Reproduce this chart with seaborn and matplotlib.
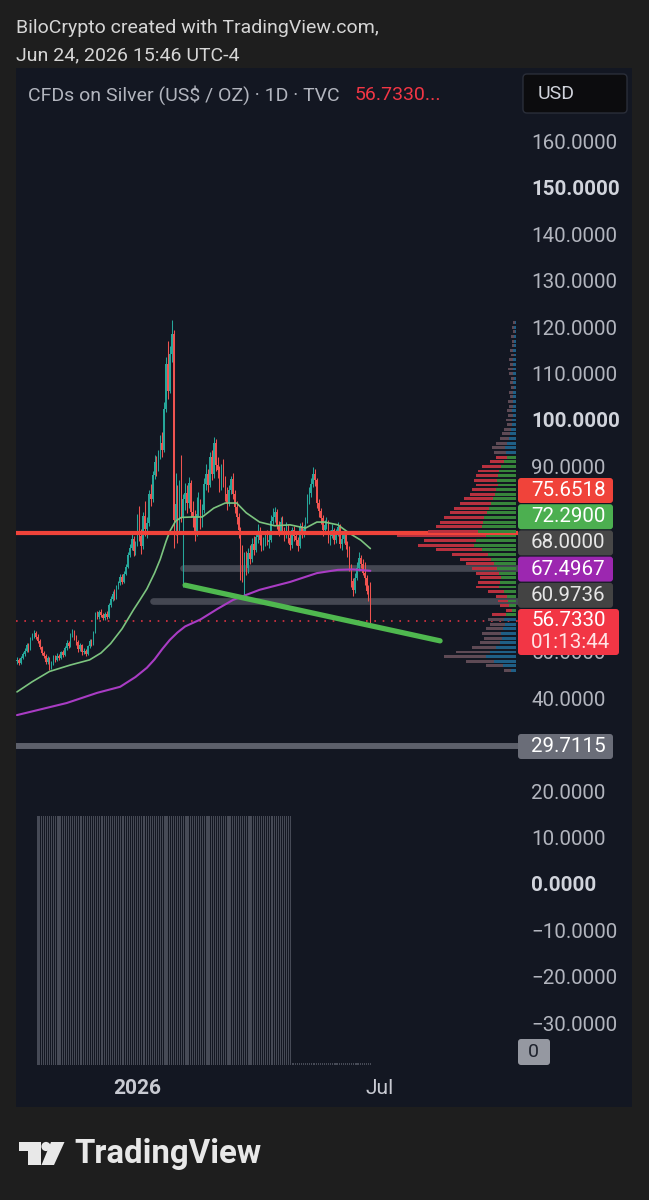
import numpy as np
import pandas as pd
import matplotlib
matplotlib.use("Agg")
import matplotlib.pyplot as plt
from matplotlib.patches import FancyBboxPatch, Rectangle, Circle, Polygon
import seaborn as sns

# --- data (prices in US$ / oz, one bar per trading day) ---
first_open = 48.0
closes = [48.2, 47.6, 48.8, 49.5, 50.2, 51.4, 50.6, 52.8, 53.5, 54.1,
          53.2, 52.4, 51.0, 49.8, 49.1, 47.9, 48.6, 46.8, 47.5, 48.9,
          48.3, 49.2, 48.7, 49.9, 49.4, 50.8, 51.9, 51.3, 53.6, 54.4,
          53.0, 52.1, 50.6, 51.4, 49.9, 50.3, 49.6, 51.2, 52.3, 51.8,
          54.2, 58.1, 57.6, 58.7, 58.0, 57.3, 58.2, 57.6, 60.1, 61.4,
          62.6, 61.8, 63.9, 64.8, 66.2, 65.1, 66.9, 68.4, 70.9, 72.4,
          74.3, 71.8, 73.2, 78.1, 75.0, 72.9, 79.2, 76.4, 77.8, 84.1,
          83.0, 88.2, 91.0, 89.4, 92.3, 95.1, 93.6, 102.4, 112.0, 106.3,
          114.2, 118.5, 78.4, 82.0, 76.3, 86.1, 79.0, 83.0, 84.3, 82.1,
          86.4, 80.2, 79.0, 76.1, 79.8, 82.4, 78.1, 80.6, 86.2, 88.4,
          86.0, 92.1, 88.3, 95.0, 90.4, 89.2, 86.1, 88.5, 86.9, 84.0,
          82.2, 85.0, 87.3, 84.1, 81.2, 79.0, 76.2, 72.1, 66.3, 70.2,
          68.0, 71.4, 70.1, 73.2, 72.0, 74.8, 76.1, 74.2, 72.9, 73.4,
          75.2, 73.8, 74.1, 78.3, 79.1, 80.2, 77.3, 75.9, 78.1, 76.2,
          75.1, 77.0, 74.6, 73.1, 76.2, 75.0, 74.1, 72.8, 77.1, 75.3,
          76.4, 78.2, 83.1, 84.2, 86.3, 88.4, 87.0, 82.1, 80.3, 78.9,
          76.2, 77.4, 78.1, 74.2, 75.0, 76.3, 74.1, 75.6, 77.0, 73.2,
          74.4, 75.2, 73.0, 72.1, 68.3, 65.2, 63.4, 66.0, 68.1, 70.2,
          69.0, 67.1, 66.0, 63.2, 62.1, 56.733]
highs = [48.9, 48.6, 49.2, 50.0, 50.8, 52.0, 51.9, 53.3, 54.2, 54.8,
         54.5, 53.8, 52.8, 51.3, 50.3, 49.5, 49.1, 48.9, 48.0, 49.3,
         49.4, 49.7, 49.6, 50.3, 50.4, 51.2, 52.5, 52.3, 54.0, 55.0,
         54.8, 53.6, 52.5, 51.9, 51.7, 50.9, 50.7, 51.6, 52.8, 52.9,
         54.6, 58.6, 58.9, 59.1, 59.2, 58.4, 58.7, 58.8, 60.6, 62.0,
         63.2, 63.5, 64.5, 65.4, 66.8, 66.9, 67.5, 69.0, 71.5, 73.2,
         75.4, 75.0, 74.0, 79.8, 81.5, 76.5, 80.1, 82.5, 79.0, 84.9,
         86.2, 89.0, 92.5, 92.2, 93.6, 96.8, 97.5, 103.8, 113.5, 117.1,
         116.0, 121.6, 119.5, 88.5, 86.0, 87.0, 92.5, 84.0, 86.5, 86.0,
         87.8, 87.0, 82.5, 80.5, 83.5, 84.5, 83.0, 82.0, 87.5, 90.5,
         89.5, 93.0, 93.5, 96.3, 95.8, 92.0, 90.0, 90.5, 91.5, 88.0,
         85.5, 86.0, 88.0, 88.5, 85.0, 82.5, 80.0, 77.0, 73.0, 71.5,
         71.8, 72.5, 73.0, 74.5, 75.0, 76.0, 77.5, 77.0, 75.5, 74.8,
         76.0, 76.2, 75.5, 79.5, 81.0, 81.2, 80.8, 78.2, 79.0, 79.2,
         77.0, 78.0, 77.5, 75.5, 77.0, 77.2, 76.0, 74.8, 77.8, 78.0,
         77.3, 79.0, 84.0, 85.5, 87.5, 89.8, 89.5, 87.5, 83.0, 81.0,
         79.5, 78.5, 79.0, 78.5, 76.2, 77.5, 76.8, 76.5, 78.0, 77.5,
         75.5, 76.0, 75.8, 74.0, 72.8, 69.0, 66.0, 67.0, 69.5, 71.5,
         71.0, 70.0, 69.5, 66.5, 64.5, 65.0]
lows = [47.5, 47.1, 47.4, 48.5, 49.2, 50.0, 50.1, 50.4, 52.5, 53.0,
        52.7, 51.9, 50.6, 49.3, 48.6, 47.4, 47.5, 46.2, 46.4, 47.2,
        47.9, 48.0, 48.2, 48.4, 48.9, 49.1, 50.5, 50.8, 51.0, 53.2,
        52.5, 51.6, 50.1, 50.2, 49.4, 49.5, 49.1, 49.3, 50.9, 51.3,
        51.5, 54.0, 57.1, 57.2, 57.5, 56.8, 57.0, 57.1, 57.3, 59.8,
        61.0, 61.2, 61.5, 63.5, 64.4, 64.6, 64.8, 66.5, 68.0, 70.4,
        71.9, 70.6, 70.9, 72.8, 74.0, 71.2, 72.1, 75.0, 74.5, 77.2,
        81.5, 82.4, 87.3, 88.0, 88.9, 91.5, 92.0, 93.0, 101.8, 104.5,
        105.8, 112.5, 72.5, 75.2, 73.5, 75.8, 78.0, 64.0, 80.5, 80.0,
        81.0, 79.0, 77.0, 74.0, 75.0, 79.0, 76.5, 77.0, 80.0, 85.0,
        84.5, 85.5, 87.0, 87.5, 89.0, 87.5, 84.5, 85.0, 85.5, 82.5,
        80.5, 81.5, 84.0, 83.0, 80.0, 77.5, 74.5, 65.5, 65.0, 62.0,
        66.5, 67.0, 69.0, 69.5, 71.0, 71.5, 73.5, 73.0, 71.8, 72.0,
        72.8, 73.0, 72.5, 73.8, 77.5, 78.0, 76.5, 75.0, 75.5, 75.5,
        74.0, 74.5, 73.5, 72.0, 72.5, 74.0, 73.0, 71.8, 72.5, 74.5,
        74.8, 75.8, 77.8, 82.0, 83.5, 85.5, 85.8, 81.0, 79.0, 77.5,
        75.0, 75.5, 76.5, 73.5, 73.0, 74.5, 73.2, 73.5, 75.0, 72.5,
        72.0, 73.5, 72.2, 70.5, 67.5, 64.0, 62.0, 62.8, 65.5, 67.5,
        68.0, 66.5, 64.5, 62.5, 61.0, 56.2]

# moving averages (bar index, value)
ma_fast_bars = [0, 8, 17, 28, 38, 44, 49, 55, 61, 64, 68, 72, 75, 78, 80, 83, 86,
                92, 97, 103, 109, 115, 120, 127, 135, 143, 151, 157, 161, 168,
                174, 180, 185]
ma_fast_vals = [41.4, 43.6, 45.8, 47.2, 48.3, 49.8, 51.8, 55.0, 59.1, 61.0, 63.6,
                67.0, 70.0, 73.8, 76.0, 78.2, 79.0, 79.1, 79.1, 81.0, 82.1, 82.1,
                80.0, 78.0, 77.2, 77.4, 76.7, 78.0, 78.0, 77.4, 75.6, 74.1, 72.29]
ma_slow_bars = [0, 26, 42, 54, 62, 68, 72, 76, 80, 84, 88, 96, 105, 113, 127, 143,
                157, 168, 176, 185]
ma_slow_vals = [36.4, 39.0, 41.2, 42.5, 44.6, 46.6, 48.4, 50.6, 52.6, 54.2, 55.5,
                57.0, 59.3, 61.2, 63.4, 65.1, 67.0, 67.7, 67.8, 67.4967]

trend_bars = [88, 221.5]
trend_vals = [64.4, 52.4]

resistance = 75.6518
band_levels = [68.0, 60.9736]
band_start = [87, 71]
support = 29.7115
last_price = 56.7330
countdown = "01:13:44"

vol_bars = list(range(11, 144))
vol_top = 14.65
vol_tail = list(range(144, 186))

# visible range volume profile
vp_levels = list(range(46, 122))
vp_total = [12, 30, 50, 72, 60, 44, 36, 32, 34, 30, 26, 28, 24, 10, 16, 18, 20, 28,
            40, 38, 36, 40, 44, 50, 56, 64, 80, 98, 92, 119, 88, 80, 76, 72, 66, 62,
            56, 52, 46, 44, 40, 42, 40, 38, 34, 26, 20, 22, 24, 20, 16, 14, 12, 9,
            10, 8, 9, 7, 8, 6, 7, 5, 6, 5, 7, 8, 6, 7, 5, 6, 4, 4, 5, 3, 4, 3]
vp_up = [5, 13, 22, 30, 26, 20, 16, 14, 15, 13, 11, 12, 10, 4, 7, 8, 9, 12,
         17, 16, 15, 17, 19, 22, 25, 28, 34, 42, 40, 30, 38, 34, 33, 32, 29, 27,
         25, 23, 21, 20, 18, 19, 18, 17, 15, 12, 9, 10, 11, 9, 7, 6, 5, 4,
         4, 3, 4, 3, 3, 3, 3, 2, 3, 2, 3, 3, 3, 3, 2, 3, 2, 2, 2, 1, 2, 1]
va_low, va_high = 58, 92

# 80, 70, 60 and 30 sit behind the price labels
y_ticks = [160, 150, 140, 130, 120, 110, 100, 90, 50, 40, 20, 10, 0, -10, -20, -30]
bold_ticks = [150, 100, 0]
x_tick_bars = [63, 190]
x_tick_labels = ["2026", "Jul"]

# stacked labels on the price scale: text, box colour, text colour
scale_labels = [("75.6518", "#f0433a", "#ffffff"),
                ("72.2900", "#4caf50", "#ffffff"),
                ("68.0000", "#474747", "#e6e6e6"),
                ("67.4967", "#9c27b0", "#ffffff"),
                ("60.9736", "#434343", "#e6e6e6")]

# --- style ---
UP, DOWN = "#26a69a", "#ef5350"
BG, PANEL = "#1e1e1e", "#131722"
sns.set_style("dark", {"axes.facecolor": "none", "axes.grid": False})
plt.rcParams["font.family"] = ["Roboto", "DejaVu Sans"]

W, H = 649, 1200
fig = plt.figure(figsize=(W / 100, H / 100), dpi=100)
fig.patch.set_facecolor(BG)

def fx(x):
    return x / W

def fy(y):
    return 1 - y / H

bg = fig.add_axes([0, 0, 1, 1], zorder=-5)
bg.set_xlim(0, W)
bg.set_ylim(H, 0)
bg.axis("off")
bg.add_patch(Rectangle((16, 68), 616, 1039, color=PANEL, lw=0))

# main price pane
ax = fig.add_axes([fx(16), fy(1065), fx(518) - fx(16), fy(84) - fy(1065)], zorder=0)
ax.set_facecolor("none")
for s in ax.spines.values():
    s.set_visible(False)
y_lo, y_hi = -39.01, 172.41
ax.set_xlim(-0.524, 262.3)
ax.set_ylim(y_lo, y_hi)

df = pd.DataFrame({"bar": np.arange(len(closes)), "close": closes,
                   "high": highs, "low": lows})
df["open"] = [first_open] + closes[:-1]
df["color"] = np.where(df["close"] >= df["open"], UP, DOWN)

# volume
ax.bar(vol_bars, vol_top - y_lo, bottom=y_lo, width=0.55, color="#464a56", lw=0, zorder=1)
ax.bar(vol_tail, 0.35, bottom=y_lo, width=0.55, color="#464a56", lw=0, zorder=1)

# drawn levels
ax.axhline(support, color="#5d606b", lw=4.3, zorder=2)
for lvl, start in zip(band_levels, band_start):
    ax.plot([start, 270], [lvl, lvl], color="#4a4d58", lw=4.8, alpha=0.9,
            solid_capstyle="round", zorder=2)
ax.axhline(last_price, color="#f23645", lw=1.2, ls=(0, (1, 4)), alpha=0.9, zorder=2)

# candles
ax.vlines(df["bar"], df["low"], df["high"], colors=df["color"], lw=0.75, zorder=3)
body_lo = df[["open", "close"]].min(axis=1)
body_h = (df["close"] - df["open"]).abs().clip(lower=0.35)
ax.bar(df["bar"], body_h, bottom=body_lo, width=0.72, color=df["color"], lw=0, zorder=3)

# moving averages
sns.lineplot(x=ma_fast_bars, y=ma_fast_vals, ax=ax, color="#7cc47f", lw=1.2,
             sort=False, estimator=None, zorder=4)
sns.lineplot(x=ma_slow_bars, y=ma_slow_vals, ax=ax, color="#a93cc4", lw=1.5,
             sort=False, estimator=None, zorder=4)

ax.axhline(resistance, color="#f0433a", lw=3.0, zorder=5)
ax.plot(trend_bars, trend_vals, color="#4fb84f", lw=3.8, solid_capstyle="round", zorder=6)

# price scale
ax.yaxis.tick_right()
ax.set_yticks(y_ticks)
ax.set_yticklabels([f"{v:.4f}".replace("-", "\u2212") for v in y_ticks])
ax.tick_params(axis="y", length=0, pad=9.4, labelsize=14.8, labelcolor="#b2b5be")
for v, lab in zip(y_ticks, ax.get_yticklabels()):
    if v in bold_ticks:
        lab.set_fontweight("bold")
        lab.set_color("#d1d4dc")
ax.set_xticks(x_tick_bars)
ax.set_xticklabels(x_tick_labels)
ax.tick_params(axis="x", length=0, pad=10, labelsize=15, labelcolor="#c8cad2")
ax.get_xticklabels()[0].set_fontweight("bold")
ax.set_xlabel("")
ax.set_ylabel("")

# volume profile, bars grow leftwards from the price scale
vp = ax.twiny()
vp.set_xlim(502, 0)
vp.axis("off")
in_va = [va_low <= p <= va_high for p in vp_levels]
up_c = ["#37853b" if v else "#1f5f86" for v in in_va]
dn_c = ["#b8313f" if v else "#5e4a55" for v in in_va]
vp_dn = [t - u for t, u in zip(vp_total, vp_up)]
vp.barh(vp_levels, vp_up, left=2, height=0.62, color=up_c, lw=0)
vp.barh(vp_levels, vp_dn, left=[2 + u for u in vp_up], height=0.62, color=dn_c, lw=0)

# overlay in pixel coordinates: header, labels, footer
ov = fig.add_axes([0, 0, 1, 1], zorder=10)
ov.set_xlim(0, W)
ov.set_ylim(H, 0)
ov.axis("off")

ov.text(16, 28, "BiloCrypto created with TradingView.com,", color="#d6d6d6",
        fontsize=14, va="center", ha="left")
ov.text(16, 55, "Jun 24, 2026 15:46 UTC-4", color="#d6d6d6",
        fontsize=14, va="center", ha="left")
ov.text(28, 95, "CFDs on Silver (US$ / OZ) \u00b7 1D \u00b7 TVC", color="#b2b5be",
        fontsize=14, va="center", ha="left")
ov.text(355, 95, "56.7330...", color="#f23645", fontsize=14, va="center", ha="left")
ov.add_patch(FancyBboxPatch((523, 74), 104, 39, boxstyle="round,pad=0,rounding_size=4",
                            fc="#0c0c0e", ec="#2a2e39", lw=1))
ov.text(538, 94, "USD", color="#d1d4dc", fontsize=14, va="center", ha="left")

top = 478
for txt, fc, tc in scale_labels:
    ov.add_patch(FancyBboxPatch((518, top), 95, 25, boxstyle="round,pad=0,rounding_size=3",
                                fc=fc, ec="none"))
    ov.text(531, top + 12.5, txt, color=tc, fontsize=14.8, va="center", ha="left")
    top += 26.2
ov.add_patch(FancyBboxPatch((518, 609), 101, 46, boxstyle="round,pad=0,rounding_size=3",
                            fc="#f23645", ec="none"))
ov.text(531, 621, f"{last_price:.4f}", color="#ffffff", fontsize=14.8, va="center", ha="left")
ov.text(531, 643, countdown, color="#ffe3e5", fontsize=14.8, va="center", ha="left")
ov.add_patch(FancyBboxPatch((518, 734), 95, 25, boxstyle="round,pad=0,rounding_size=3",
                            fc="#6a6d78", ec="none"))
ov.text(531, 746.5, f"{support:.4f}", color="#ffffff", fontsize=14.8, va="center", ha="left")
ov.add_patch(FancyBboxPatch((518, 1039), 32, 26, boxstyle="round,pad=0,rounding_size=3",
                            fc="#9598a1", ec="none"))
ov.text(528, 1052, "0", color="#1e222d", fontsize=14, va="center", ha="left")

# TradingView logo
logo = "#e8e8e8"
ov.add_patch(Polygon([(19, 1142), (40.5, 1142), (40.5, 1165), (28, 1165), (28, 1151), (19, 1151)],
                     closed=True, fc=logo, ec="none"))
ov.add_patch(Circle((46, 1146.5), 4.6, fc=logo, ec="none"))
ov.add_patch(Polygon([(51, 1142), (64.5, 1142), (54, 1165), (41.5, 1165)],
                     closed=True, fc=logo, ec="none"))
ov.text(74, 1154, "TradingView", color=logo, fontsize=23.8, fontweight="bold",
        va="center", ha="left")

fig.savefig("out.png", dpi=100, facecolor=fig.get_facecolor())
